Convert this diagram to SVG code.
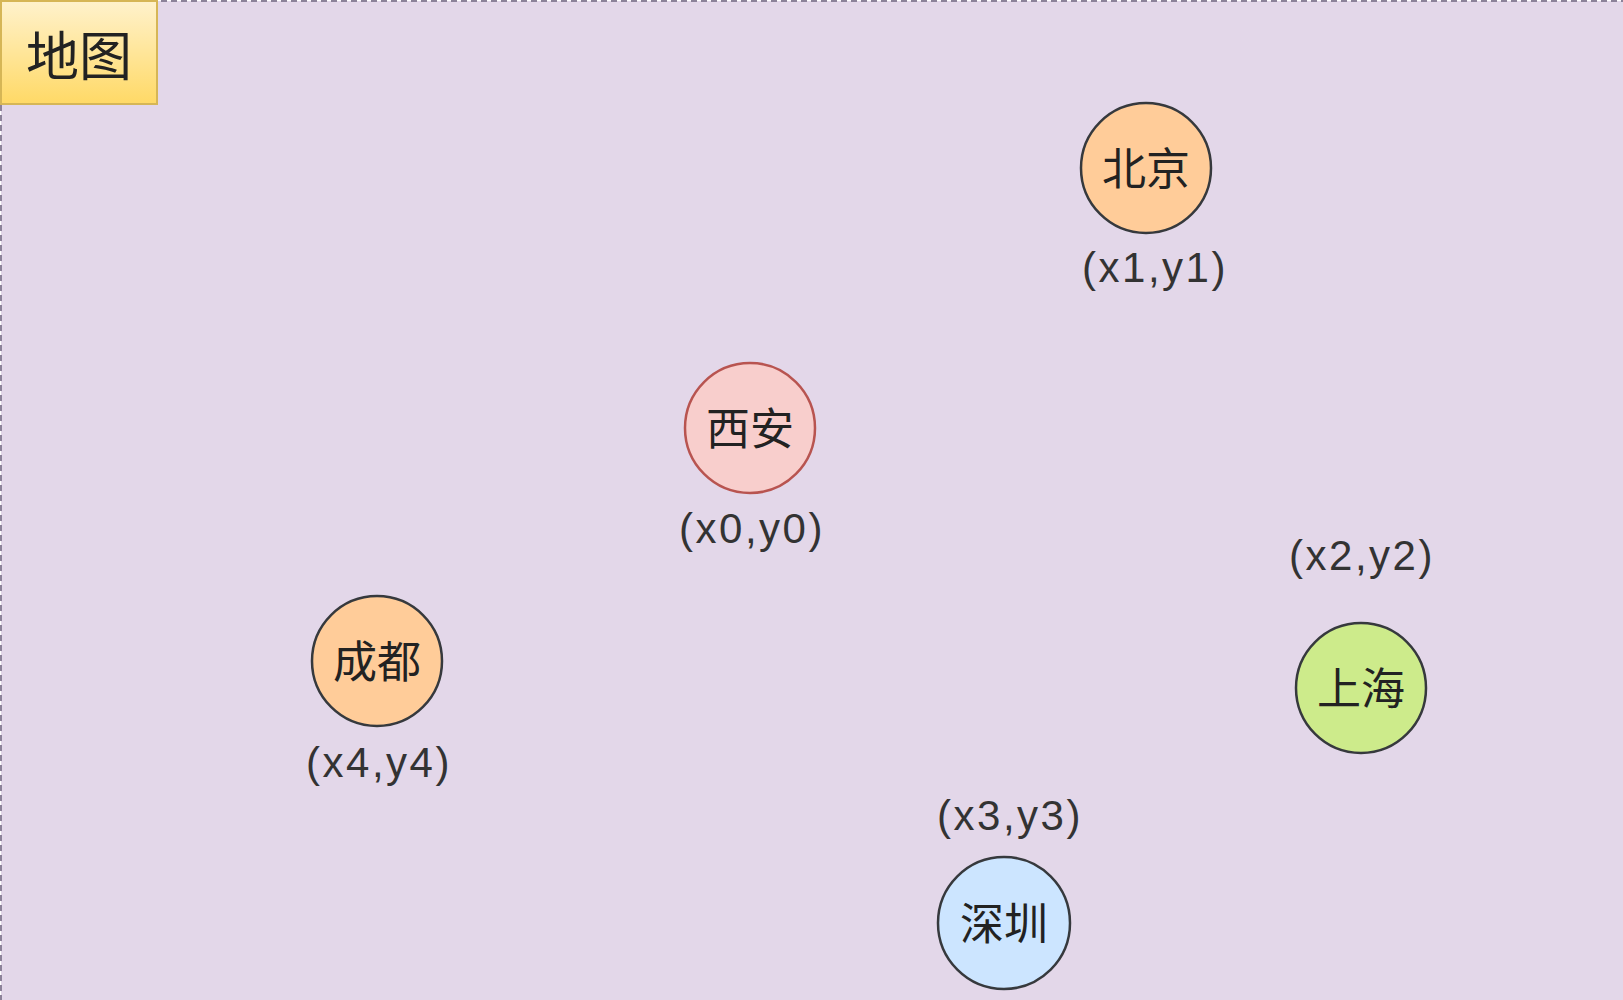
<svg xmlns="http://www.w3.org/2000/svg" width="1623" height="1000" viewBox="0 0 1623 1000">
<style>
.city{stroke-width:2.5}
.cn{font-family:"Noto Sans CJK SC","Liberation Sans",sans-serif;font-size:44px;fill:#222;text-anchor:middle;dominant-baseline:central}
.co{font-family:"Liberation Sans","Noto Sans",sans-serif;font-size:42px;letter-spacing:2.5px;fill:#333;text-anchor:middle;dominant-baseline:central}
.orange{fill:#ffcc99;stroke:#36393d}
.red{fill:#f8cecc;stroke:#b85450}
.green{fill:#cdeb8b;stroke:#36393d}
.blue{fill:#cce5ff;stroke:#36393d}
</style>
<defs>
<linearGradient id="yg" x1="0" y1="0" x2="0" y2="1">
<stop offset="0" stop-color="#fff2cc"/>
<stop offset="1" stop-color="#ffd966"/>
</linearGradient>
</defs>
<g id="map">
<rect x="1" y="1" width="1640" height="1020" fill="#e3d7e9" stroke="#8c8299" stroke-width="2" stroke-dasharray="6 4"/>
</g>
<g id="title">
<rect x="1" y="1" width="156" height="103" fill="url(#yg)" stroke="#d6b656" stroke-width="2"/>
<text class="cn" x="79" y="53" style="font-size:53px">地图</text>
</g>
<g id="connectors"></g>
<g id="beijing">
<circle class="city orange" cx="1146" cy="168" r="65"/>
<text class="cn" x="1146" y="166">北京</text>
<text class="co" x="1155" y="267">(x1,y1)</text>
</g>
<g id="xian">
<circle class="city red" cx="750" cy="428" r="65"/>
<text class="cn" x="750" y="426">西安</text>
<text class="co" x="752" y="528">(x0,y0)</text>
</g>
<g id="shanghai">
<circle class="city green" cx="1361" cy="688" r="65"/>
<text class="co" x="1362" y="555">(x2,y2)</text>
<text class="cn" x="1361" y="686">上海</text>
</g>
<g id="chengdu">
<circle class="city orange" cx="377" cy="661" r="65"/>
<text class="cn" x="377" y="659">成都</text>
<text class="co" x="379" y="762">(x4,y4)</text>
</g>
<g id="shenzhen">
<circle class="city blue" cx="1004" cy="923" r="66"/>
<text class="co" x="1010" y="815">(x3,y3)</text>
<text class="cn" x="1004" y="921">深圳</text>
</g>
</svg>
